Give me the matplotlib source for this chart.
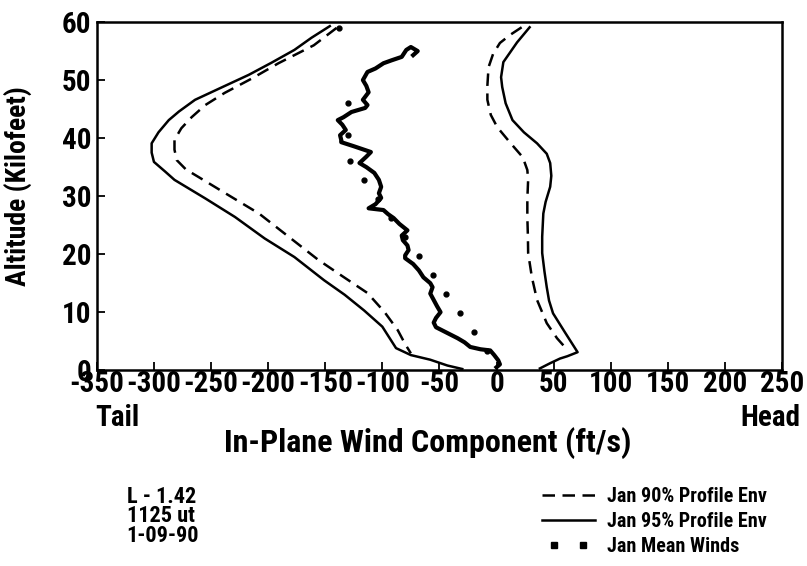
import matplotlib
matplotlib.use("Agg")
import numpy as np
import matplotlib.pyplot as plt
from matplotlib.lines import Line2D
from matplotlib.legend_handler import HandlerLine2D

# narrow bold font like the scanned original, first one found is used
plt.rcParams['font.family'] = ['Liberation Sans Narrow', 'Arial Narrow', 'Roboto Condensed',
                               'Archivo Narrow', 'PT Sans Narrow', 'DejaVu Sans']
plt.rcParams['font.weight'] = 'bold'
plt.rcParams['axes.unicode_minus'] = False

# Jan 95% profile envelope (solid), left branch: wind (ft/s), altitude (kft)
env95_left_v = [-146, -162, -177, -197, -217, -240, -264, -278, -287, -296, -302, -302, -300,
                -290, -282, -255, -229, -203, -177, -151, -133, -116, -100, -88, -75, -58, -43, -30]
env95_left_alt = [59.3, 57.3, 55.2, 53.0, 50.9, 48.8, 46.6, 44.6, 43.1, 41.0, 39.1, 37.5, 35.9,
                  34.2, 32.8, 29.6, 26.4, 22.7, 19.5, 15.5, 13.0, 10.3, 7.5, 3.8, 2.6, 1.8, 0.8, 0.2]

# Jan 95% right branch
env95_right_v = [29, 18, 6, 4, 5, 8, 14, 24, 35.5, 44, 47, 48, 47, 43, 41, 40, 40, 42, 44, 46,
                 49.5, 60, 71, 62, 55.6, 47, 38]
env95_right_alt = [59.1, 56.5, 53.1, 50.5, 48.8, 46, 43.1, 41, 39.1, 37.3, 35.7, 33.5, 31.6, 29,
                   27, 23, 20.2, 17, 14.3, 12, 9.8, 6.5, 3.1, 2.4, 2.0, 1.2, 0.3]

# Jan 90% profile envelope (dashed)
env90_left_v = [-140, -160, -191, -214, -238, -255, -267, -276, -282, -282, -280, -272, -261,
                -235, -208, -182, -156, -135, -113, -98, -86.5, -80, -75]
env90_left_alt = [59.0, 56.0, 52.9, 50.3, 47.8, 45.7, 43.6, 41.7, 39.7, 38.0, 36.2, 34.6, 33.3,
                  30.2, 27.0, 23.0, 19.0, 16.2, 13.3, 10.0, 6.9, 4.5, 2.9]
env90_right_v = [22, 12, 3, -3, -7, -8, -8, -5, 0.6, 12, 23, 27, 27.7, 27, 27, 27.5, 27.7, 31,
                 35.5, 44, 53, 62.5]
env90_right_alt = [59.1, 57.8, 56.4, 54.5, 52.2, 49, 46.6, 44, 41.9, 39.2, 36.7, 34.5, 32.8,
                   29.5, 26.4, 23, 20.2, 16, 12.1, 8.1, 5.5, 3.4]

# Measured profile L-1.42, 1125 ut, 1-09-90
prof_v = [-73, -69, -75, -79, -83, -92, -99, -106, -113, -117, -114, -112, -117, -113, -115,
          -127, -134, -139, -135, -132, -137, -136, -136, -125, -110, -114, -120, -114, -107,
          -103, -101, -103, -101, -106, -112, -99, -95, -90, -85, -78, -83, -82, -78, -77, -80,
          -80, -73, -68, -64, -58, -56, -58, -55, -52, -49, -53, -55, -53, -44, -34, -28, -23,
          -14, -5.5, -2, 1.5, 3, 0]
prof_alt = [54.3, 55.0, 55.7, 55.2, 54.0, 53.4, 52.9, 52.0, 51.4, 50.0, 49.0, 47.9, 46.6, 45.7,
            45.2, 44.5, 43.6, 43.1, 42.3, 41.4, 40.5, 39.7, 39.3, 38.6, 37.6, 36.8, 35.7, 35.0,
            34.0, 32.8, 31.6, 30.5, 29.7, 28.6, 27.9, 27.6, 26.9, 26.2, 25.2, 24.1, 23.2, 22.4,
            21.5, 20.7, 19.8, 19.3, 18.3, 17.2, 16.0, 15.0, 14.3, 13.2, 12.1, 11.0, 10.0, 9.0,
            8.2, 7.4, 6.5, 5.5, 4.8, 4.0, 3.6, 3.4, 2.6, 1.7, 1.0, 0.5]

# Jan mean winds (dots)
mean_v = [-8, -20, -32, -44, -56, -68, -80, -92, -104, -116, -128, -130, -130, -138]
mean_alt = [3.3, 6.6, 9.8, 13.1, 16.4, 19.7, 23.0, 26.2, 29.5, 32.8, 36.0, 40.5, 46.0, 59.0]

x_ticks = np.arange(-350, 251, 50)
y_ticks = np.arange(0, 61, 10)

fig = plt.figure(figsize=(8.07, 5.66), dpi=100)
ax = fig.add_axes([0.120, 0.346, 0.849, 0.615])

dash = (0, (5, 3))
ax.plot(env95_left_v, env95_left_alt, color='black', lw=1.8)
ax.plot(env95_right_v, env95_right_alt, color='black', lw=1.8)
ax.plot(env90_left_v, env90_left_alt, color='black', lw=1.8, linestyle=dash)
ax.plot(env90_right_v, env90_right_alt, color='black', lw=1.8, linestyle=dash)
ax.plot(prof_v, prof_alt, color='black', lw=3)
ax.plot(mean_v, mean_alt, 'o', color='black', ms=3.5, linestyle='none')

ax.set_xlim(-350, 250)
ax.set_ylim(0, 60)
ax.set_xticks(x_ticks)
ax.set_yticks(y_ticks)
ax.tick_params(direction='in', length=6, width=1.3, labelsize=21)
ax.tick_params(axis='x', pad=0)
ax.tick_params(axis='y', pad=4)
for s in ax.spines.values():
    s.set_linewidth(1.8)

ax.set_ylabel('Altitude (Kilofeet)', fontsize=20, fontweight='bold')
ax.yaxis.set_label_coords(-0.095, 0.53)
fig.text(0.118, 0.262, 'Tail', fontsize=21, ha='left', va='center')
fig.text(0.992, 0.262, 'Head', fontsize=21, ha='right', va='center')
fig.text(0.53, 0.218, 'In-Plane Wind Component (ft/s)', fontsize=23, fontweight='bold',
         ha='center', va='center')

fig.text(0.157, 0.088, 'L - 1.42\n1125 ut\n1-09-90', fontsize=16, ha='left', va='center',
         linespacing=0.85)

handles = [Line2D([], [], color='black', lw=1.8, linestyle=dash),
           Line2D([], [], color='black', lw=1.8),
           Line2D([], [], color='black', marker='s', ms=4.5, linestyle='none')]
labels = ['Jan 90% Profile Env', 'Jan 95% Profile Env', 'Jan Mean Winds']
fig.legend(handles, labels, loc='upper left', bbox_to_anchor=(0.672, 0.139),
           frameon=False, fontsize=14.5, handlelength=2.6, labelspacing=0.3,
           handletextpad=0.6, borderaxespad=0, borderpad=0,
           handler_map={handles[2]: HandlerLine2D(numpoints=2, marker_pad=0.6)})

plt.savefig('out.png', dpi=100)
